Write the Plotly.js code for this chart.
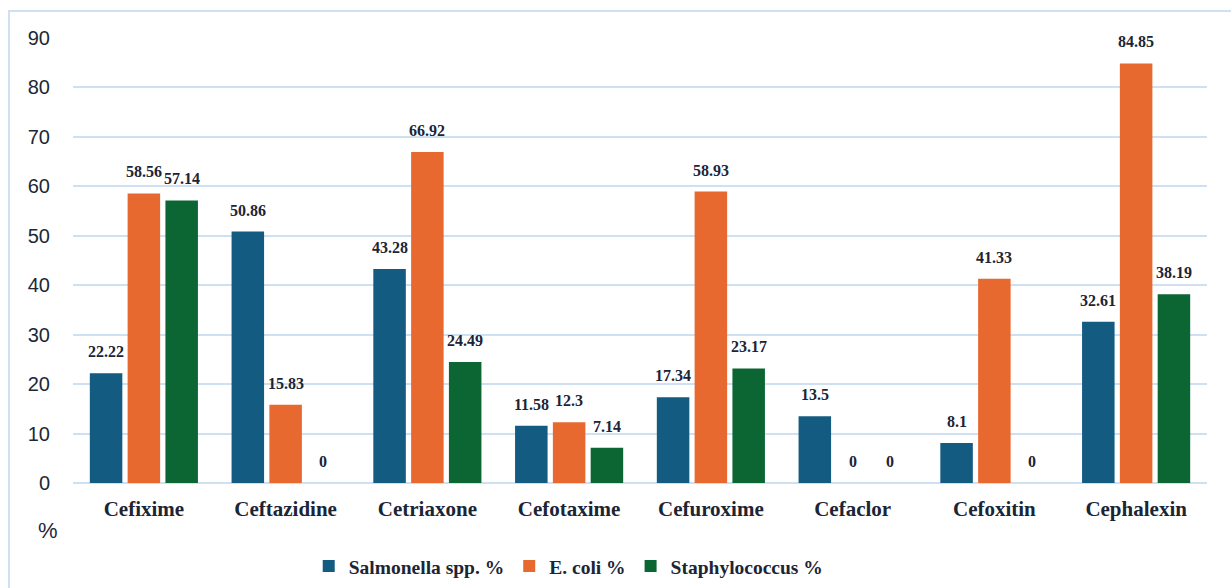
<!DOCTYPE html>
<html>
<head>
<meta charset="utf-8">
<script src="https://cdn.plot.ly/plotly-3.0.1.min.js"></script>
<style>
  html, body { margin: 0; padding: 0; background: #ffffff; }
  #wrap { position: relative; width: 1231px; height: 588px; overflow: hidden; }
  #chart { width: 1231px; height: 588px; }
  #frame { position: absolute; left: 8px; top: 10px; width: 1240px; height: 600px;
           border-left: 2px solid #cfe0f2; border-top: 2px solid #cfe0f2; pointer-events: none; }
</style>
</head>
<body>
<div id="wrap">
  <div id="chart"></div>
  <div id="frame"></div>
</div>
<script>
// Antibiotics (cephalosporins) tested
const drugs = ["Cefixime", "Ceftazidine", "Cetriaxone", "Cefotaxime", "Cefuroxime", "Cefaclor", "Cefoxitin", "Cephalexin"];

// Resistance percentage per organism
const salmonella = [22.22, 50.86, 43.28, 11.58, 17.34, 13.5, 8.1, 32.61];
const ecoli      = [58.56, 15.83, 66.92, 12.3, 58.93, 0, 41.33, 84.85];
const staph      = [57.14, 0, 24.49, 7.14, 23.17, 0, 0, 38.19];

const seriesNames = ["Salmonella spp. %", "E. coli %", "Staphylococcus %"];
const yTicks = [0, 10, 20, 30, 40, 50, 60, 70, 80, 90];

const seriesData = [salmonella, ecoli, staph];
const colors = ["#145b82", "#e8692f", "#0c6634"];

const plotLeft = 73, plotRight = 24, plotTop = 38, plotBottom = 105;
const W = 1231, H = 588;
const bargap = 0.2;

const traces = seriesData.map((vals, i) => ({
  type: "bar",
  name: seriesNames[i],
  x: drugs,
  y: vals,
  marker: { color: colors[i], line: { width: 0 } },
  hoverinfo: "x+y+name"
}));

// value labels above each bar, shifted horizontally to sit over their bar in the group
const plotW = W - plotLeft - plotRight;
const slot = plotW / drugs.length * (1 - bargap) / seriesData.length;
const annotations = [];
seriesData.forEach((vals, i) => {
  vals.forEach((v, j) => {
    annotations.push({
      xref: "x", yref: "y", x: drugs[j], y: v,
      text: String(v), showarrow: false,
      xanchor: "center", yanchor: "bottom",
      xshift: (i - 1) * slot, yshift: 11,
      font: { family: "Liberation Serif, Times New Roman, serif", size: 16, color: "#1b2535", weight: 700 }
    });
  });
});
// unit label under the value axis
annotations.push({
  xref: "paper", yref: "paper", x: 0, y: 0, xshift: -25, yshift: -47,
  xanchor: "center", yanchor: "middle", showarrow: false, text: "%",
  font: { family: "Liberation Sans, Arial, sans-serif", size: 22, color: "#1c2836" }
});
annotations[annotations.length - 1].xshift = -25;

const layout = {
  width: W, height: H,
  margin: { l: plotLeft, r: plotRight, t: plotTop, b: plotBottom, pad: 0, autoexpand: false },
  paper_bgcolor: "rgba(0,0,0,0)",
  plot_bgcolor: "rgba(0,0,0,0)",
  barmode: "group",
  bargap: bargap,
  bargroupgap: 0.14,
  showlegend: true,
  legend: {
    orientation: "h", x: 0.462, y: 0.037, xref: "container", yref: "container",
    xanchor: "center", yanchor: "middle",
    font: { family: "Liberation Serif, Times New Roman, serif", size: 19.5, color: "#1b2535", weight: 700 },
    itemwidth: 30, traceorder: "normal"
  },
  xaxis: {
    type: "category",
    showgrid: false, zeroline: false,
    showline: false, ticks: "",
    ticklabelstandoff: 11,
    tickfont: { family: "Liberation Serif, Times New Roman, serif", size: 21, color: "#1b2535", weight: 700 },
    fixedrange: true
  },
  yaxis: {
    range: [0, 90],
    tickvals: yTicks,
    ticktext: yTicks.map(String),
    showgrid: true, gridcolor: "#cfe0f2", gridwidth: 2,
    zeroline: true, zerolinecolor: "#cfe0f2", zerolinewidth: 2,
    showline: false, ticks: "",
    ticklabelstandoff: 22,
    tickfont: { family: "Liberation Sans, Arial, sans-serif", size: 20, color: "#1c2836" },
    fixedrange: true
  },
  annotations: annotations
};

Plotly.newPlot("chart", traces, layout, { displayModeBar: false, staticPlot: true });
</script>
</body>
</html>
